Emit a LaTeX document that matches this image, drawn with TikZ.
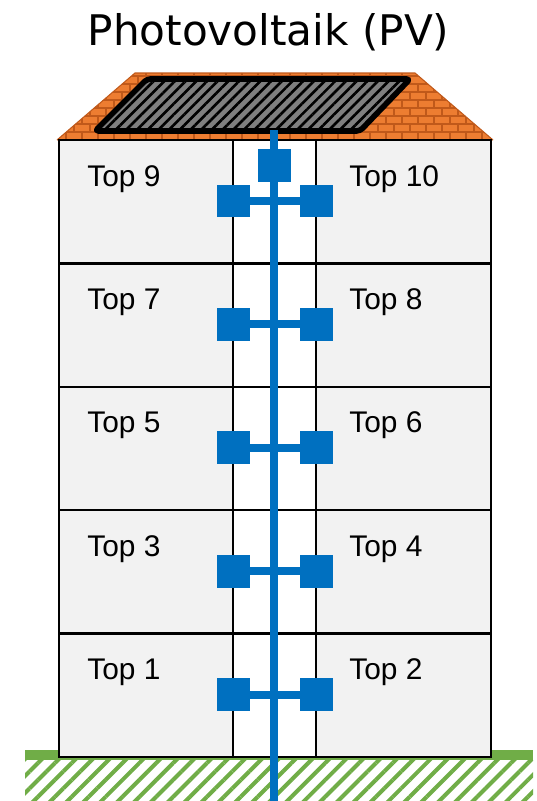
\documentclass[tikz,border=0pt]{standalone}
\usepackage{fontspec}
\setmainfont{Liberation Sans}
\newfontfamily\titlefont{DejaVu Sans}
\usetikzlibrary{patterns.meta}

\definecolor{tileorange}{HTML}{ED7D31}
\definecolor{mortar}{HTML}{C0591A}
\definecolor{panelgray}{HTML}{7F7F7F}
\definecolor{pipeblue}{HTML}{0070C0}
\definecolor{grassgreen}{HTML}{70AD47}
\definecolor{flatgray}{HTML}{F2F2F2}

\begin{document}
\begin{tikzpicture}[
    x=0.02cm, y=-0.02cm,
    wall/.style={draw=black, line width=1.4pt},
    flat/.style={wall, fill=flatgray},
    stairs/.style={wall, fill=white},
    pipe/.style={pipeblue, line width=4.5pt},
    meter/.style={rectangle, fill=pipeblue, inner sep=0pt, minimum size=0.66cm},
    toplabel/.style={font=\fontsize{17}{20}\selectfont, anchor=base west, inner sep=0pt},
    title/.style={font=\titlefont\fontsize{24}{28}\selectfont, anchor=base, inner sep=0pt}
]
    \useasboundingbox (0,0) rectangle (537,801);

    % title
    \node[title] (pvtitle) at (268.5,45) {Photovoltaik (PV)};

    % ground
    \fill[grassgreen] (25,750) rectangle (533,760);
    \path[pattern={Lines[angle=45,distance=6.8pt,line width=2.3pt]}, pattern color=grassgreen]
        (25,760) rectangle (533,801);

    % roof with bricks
    \begin{scope}
        \clip (57,140) -- (135,73) -- (415,73) -- (493,140) -- cycle;
        \fill[tileorange] (40,60) rectangle (510,145);
        \foreach \r in {0,...,9} {
            \draw[mortar, line width=0.6pt] (40,{140-8*\r}) -- (510,{140-8*\r});
            \foreach \c in {0,...,29}
                \draw[mortar, line width=0.6pt] ({50+16*\c+8*mod(\r,2)},{140-8*\r}) -- ++(0,-8);
        }
    \end{scope}
    \draw[mortar, line width=0.6pt] (57,140) -- (135,73) -- (415,73) -- (493,140);

    % solar panel
    \draw[line width=3.2pt, rounded corners=2pt, line join=round,
          preaction={fill=panelgray},
          pattern={Lines[angle=45,distance=4.3pt,line width=1.5pt]}, pattern color=black]
        (147,79) -- (410,79) -- (360,131) -- (95,131) -- cycle;

    % floors
    \foreach \i/\l/\r in {0/9/10,1/7/8,2/5/6,3/3/4,4/1/2} {
        \pgfmathsetmacro\yt{140+123.4*\i}
        \draw[flat] (59,\yt) rectangle (233,{\yt+123.4});
        \draw[flat] (316,\yt) rectangle (491,{\yt+123.4});
        \draw[stairs] (233,\yt) rectangle (316,{\yt+123.4});
        \node[toplabel] (top\l) at (87,{\yt+46}) {Top \l};
        \node[toplabel] (top\r) at (349,{\yt+46}) {Top \r};
        \node[meter] (ml\i) at (233.5,{\yt+61}) {};
        \node[meter] (mr\i) at (316.5,{\yt+61}) {};
        \draw[pipe] (ml\i) -- (mr\i);
    }

    % riser from the panel down into the ground
    \coordinate (pvout) at (274,130);
    \coordinate (earth) at (274,801);
    \draw[pipe] (pvout) -- (earth);
    \node[meter] (mpv) at (274.5,165.5) {};
\end{tikzpicture}
\end{document}
